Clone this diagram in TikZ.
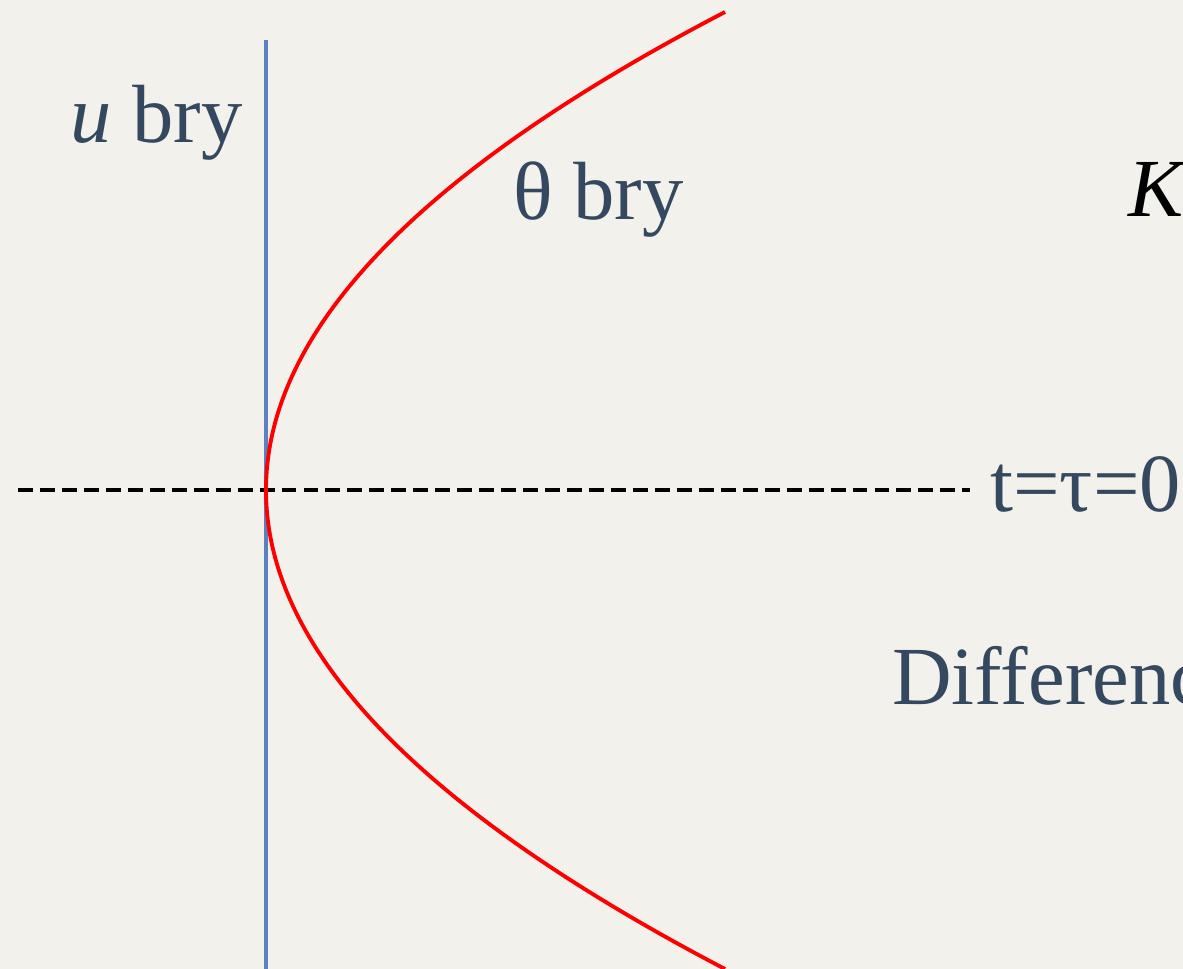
\documentclass[tikz,border=0pt]{standalone}
\usepackage{fontspec}
\setmainfont{Liberation Serif}
\usepackage{tikz}
\usetikzlibrary{positioning,calc}
\definecolor{paper}{HTML}{F3F1EC}
\definecolor{slate}{HTML}{34495F}
\definecolor{axisblue}{HTML}{5B82C0}
\tikzset{lbl/.style={inner sep=0pt,text=slate,font=\fontsize{47}{50}\selectfont},
  ubry/.style={draw=axisblue,line width=2.2pt},
  thbry/.style={draw=red,line width=2.2pt},
  slice/.style={draw=black,line width=2.2pt,dash pattern=on 8.5pt off 4pt}}

\begin{document}
\begin{tikzpicture}[x=0.02cm,y=-0.02cm]
 \fill[paper] (0,0) rectangle (1183,969);
 \useasboundingbox (0,0) rectangle (1183,969);
 \clip (0,0) rectangle (1183,969);
 \coordinate (ut) at (266,40);
 \coordinate (ub) at (266,969);
 \coordinate (tt) at (725,12);
 \coordinate (tv) at (266,490);
 \coordinate (tb) at (725,969);
 \coordinate (sl) at (18,490);
 \coordinate (sr) at (970,490);
 \draw[slice] (sl)--(sr);
 \draw[ubry] (ut)--(ub);
 \draw[thbry] (tt) .. controls (113,330.7) and (113,649.3) .. (tb);
 \node[lbl,anchor=base east] (ulab) at (243,143) {\textit{u} bry};
 \node[lbl,anchor=base west] (thlab) at (513,220) {θ bry};
 \node[lbl,anchor=base west,text=black] (klab) at (1128,217) {\textit{K}};
 \node[lbl,anchor=base west] (tlab) at (990,511) {t=τ=0};
 \node[lbl,anchor=base west] (dlab) at (892,704) {Differenc};
\end{tikzpicture}
\end{document}
